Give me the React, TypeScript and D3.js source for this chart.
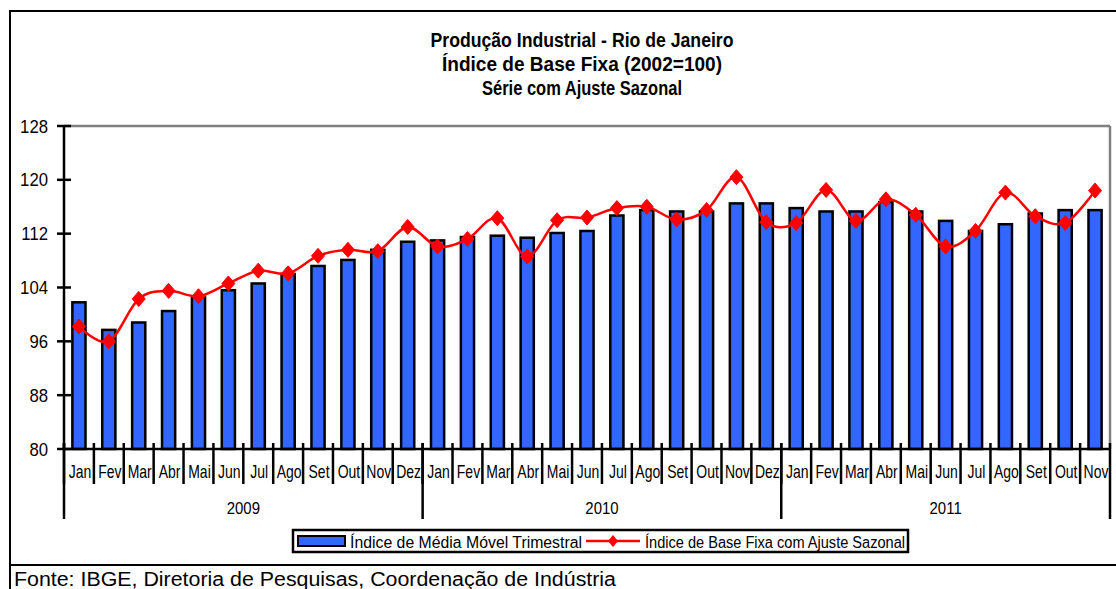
import React from "react";
import * as d3 from "d3";

const monthNames = ["Jan", "Fev", "Mar", "Abr", "Mai", "Jun", "Jul", "Ago", "Set", "Out", "Nov", "Dez"];
const years = ["2009", "2010", "2011"];
const monthsPerYear = [12, 12, 11];
const yTicks = [80, 88, 96, 104, 112, 120, 128];

const mediaMovel = [
  101.8, 97.7, 98.8, 100.5, 102.6, 103.6, 104.6, 106.0, 107.2, 108.1, 109.6, 110.8,
  111.0, 111.5, 111.7, 111.4, 112.1, 112.4, 114.7, 115.5, 115.3, 115.3, 116.5, 116.5,
  115.8, 115.3, 115.3, 116.7, 115.3, 113.9, 112.4, 113.4, 115.0, 115.5, 115.5,
];
const ajusteSazonal = [
  98.2, 96.0, 102.3, 103.5, 102.7, 104.6, 106.5, 106.1, 108.7, 109.6, 109.4, 113.0,
  110.1, 111.2, 114.3, 108.6, 114.0, 114.4, 115.8, 116.0, 114.1, 115.5, 120.4, 113.7,
  113.6, 118.5, 113.9, 117.1, 114.8, 110.1, 112.4, 118.1, 114.6, 113.6, 118.4,
];

const titleLines = [
  "Produção Industrial - Rio de Janeiro",
  "Índice de Base Fixa (2002=100)",
  "Série com Ajuste Sazonal",
];
const legendLabels = ["Índice de Média Móvel Trimestral", "Índice de Base Fixa com Ajuste Sazonal"];
const footer = "Fonte: IBGE, Diretoria de Pesquisas, Coordenação de Indústria";

const W = 1116, H = 589;
const L = 64, R = 1110, T = 126, B = 449;
const FONT = "'Liberation Sans', Arial, sans-serif";
const BLUE = "#3366FF";
const RED = "#FF0000";

export default function App() {
  const labels: string[] = [];
  years.forEach((y, yi) => {
    for (let m = 0; m < monthsPerYear[yi]; m++) labels.push(`${y}-${monthNames[m]}`);
  });
  const x = d3.scaleBand<string>().domain(labels).range([L, R]).padding(0);
  const bw = x.bandwidth();
  const y = d3.scaleLinear().domain([80, 128]).range([B, T]);

  const linePath = d3
    .line<number>()
    .x((_, i) => (x(labels[i]) as number) + bw / 2)
    .y((d) => y(d))
    .curve(d3.curveCardinal.tension(0))(ajusteSazonal) as string;

  const barW = bw * 0.44;
  const diamond = (cx: number, cy: number, r = 6.5, h = 7.5) =>
    `M${cx},${cy - h}L${cx + r},${cy}L${cx},${cy + h}L${cx - r},${cy}Z`;

  const yearStarts: number[] = [];
  let acc = 0;
  monthsPerYear.forEach((n) => {
    yearStarts.push(acc);
    acc += n;
  });

  const titleLen = [303, 280, 200];

  return (
    <svg width={W} height={H} style={{ position: "absolute", left: 0, top: 0, background: "#fff" }} fontFamily={FONT}>
      <rect x={0} y={0} width={W} height={H} fill="#fff" />
      {/* outer border */}
      <line x1={9} y1={11} x2={W} y2={11} stroke="#000" strokeWidth={2} />
      <line x1={10} y1={11} x2={10} y2={H} stroke="#000" strokeWidth={2} />
      <line x1={9} y1={565} x2={W} y2={565} stroke="#000" strokeWidth={2} />

      {/* title */}
      {titleLines.map((t, i) => (
        <text key={t} x={582} y={47 + i * 24} textAnchor="middle" fontWeight="bold" fontSize={19.5}
          textLength={titleLen[i]} lengthAdjust="spacingAndGlyphs">
          {t}
        </text>
      ))}

      {/* plot area border (gray) */}
      <line x1={L} y1={T} x2={R} y2={T} stroke="#808080" strokeWidth={2.5} />
      <line x1={R} y1={T} x2={R} y2={B} stroke="#808080" strokeWidth={2.5} />

      {/* bars */}
      {mediaMovel.map((v, i) => {
        const cx = (x(labels[i]) as number) + bw / 2;
        return (
          <rect key={i} x={cx - barW / 2} y={y(v)} width={barW} height={B - y(v)}
            fill={BLUE} stroke="#000" strokeWidth={2.5} />
        );
      })}

      {/* line */}
      <path d={linePath} fill="none" stroke={RED} strokeWidth={2.5} />
      {ajusteSazonal.map((v, i) => {
        const cx = (x(labels[i]) as number) + bw / 2;
        return <path key={i} d={diamond(cx, y(v))} fill={RED} stroke={RED} strokeWidth={1} />;
      })}

      {/* y axis */}
      <line x1={L} y1={T - 1} x2={L} y2={B} stroke="#000" strokeWidth={2.5} />
      {yTicks.map((t) => (
        <g key={t}>
          <line x1={L - 7} y1={y(t)} x2={L + 7} y2={y(t)} stroke="#000" strokeWidth={2.5} />
          <text transform={`translate(48,${y(t) + 6.5}) scale(0.93,1)`} textAnchor="end" fontSize={18}>{t}</text>
        </g>
      ))}

      {/* x axis */}
      <line x1={L} y1={B} x2={R + 1} y2={B} stroke="#000" strokeWidth={2.5} />
      {labels.map((lab) => {
        const x0 = x(lab) as number;
        return <line key={lab} x1={x0} y1={B - 6} x2={x0} y2={484} stroke="#000" strokeWidth={2.5} />;
      })}
      <line x1={R} y1={B - 6} x2={R} y2={519} stroke="#000" strokeWidth={2.5} />
      {yearStarts.map((s, yi) => (
        <line key={yi} x1={x(labels[s]) as number} y1={B - 6} x2={x(labels[s]) as number} y2={519}
          stroke="#000" strokeWidth={2.5} />
      ))}
      {labels.map((lab, i) => {
        const cx = (x(lab) as number) + bw / 2 + 1;
        const m = monthNames[i % 12];
        return (
          <text key={lab} transform={`translate(${cx},477.5) scale(0.8,1)`} textAnchor="middle" fontSize={17.5}>
            {m}
          </text>
        );
      })}
      {years.map((yr, yi) => {
        const s = yearStarts[yi];
        const e = s + monthsPerYear[yi] - 1;
        const cx = ((x(labels[s]) as number) + (x(labels[e]) as number) + bw) / 2;
        return (
          <text key={yr} transform={`translate(${cx},513.5) scale(0.88,1)`} textAnchor="middle" fontSize={17}>
            {yr}
          </text>
        );
      })}

      {/* legend */}
      <rect x={293} y={530} width={615} height={22} fill="#fff" stroke="#000" strokeWidth={2.5} />
      <rect x={298} y={536} width={47} height={10} fill={BLUE} stroke="#000" strokeWidth={2} />
      <text x={350} y={547.5} fontSize={16} textLength={232} lengthAdjust="spacingAndGlyphs">{legendLabels[0]}</text>
      <line x1={586} y1={541} x2={640} y2={541} stroke={RED} strokeWidth={2.5} />
      <path d={diamond(613, 541, 5, 6)} fill={RED} />
      <text x={645} y={547.5} fontSize={16} textLength={260} lengthAdjust="spacingAndGlyphs">{legendLabels[1]}</text>

      {/* footer */}
      <text x={14} y={586} fontSize={19.5} textLength={602} lengthAdjust="spacingAndGlyphs">{footer}</text>
    </svg>
  );
}
